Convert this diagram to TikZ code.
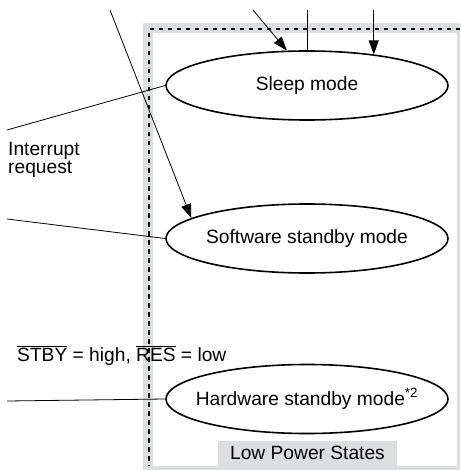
\documentclass[tikz,border=0pt]{standalone}
\usepackage{fontspec}
\setmainfont{Liberation Sans}
\usetikzlibrary{shapes.geometric,arrows.meta}
\definecolor{bandgray}{RGB}{221,222,224}
\newcommand{\modelabel}[1]{\makebox[0pt]{#1}}

\begin{document}
\begin{tikzpicture}[x=1pt,y=-1pt,
    font=\fontsize{19.2}{18}\selectfont,
    mode/.style={draw,ellipse,line width=1.6pt,minimum width=282pt,minimum height=69pt,inner sep=0pt},
    wire/.style={line width=0.8pt},
    into/.style={wire,-{Triangle[length=14pt,width=10pt]}}]
	\useasboundingbox (0,0) rectangle (460,470);
	% low power region
	\fill[bandgray] (143,23) rectangle (460,470);
	\fill[white] (153,33) rectangle (457,466);
	\draw[line width=1.4pt,dash pattern=on 4.5pt off 4.5pt] (460,29) -- (149,29) -- (149,466);
	\node[fill=bandgray,minimum width=179pt,minimum height=25pt,anchor=south] (lps) at (307.5,466) {Low Power States};
	
	\node[mode] (sleep) at (307,85.5) {\modelabel{Sleep mode}};
	\node[mode] (sw) at (307,238.5) {\modelabel{Software standby mode}};
	\node[mode] (hw) at (307,399) {\modelabel{Hardware standby mode\textsuperscript{*2}}};
	
	\coordinate (top) at (0,10);
	\coordinate (a) at (110,10);
	\coordinate (b) at (253,10);
	\draw[into] (a) -- (sw.170);
	\draw[into] (b) -- (sleep.120);
	\draw[wire] (sleep.north) -- (sleep.north |- top);
	\draw[into] (sleep.25 |- top) -- (sleep.25);
	
	\coordinate (irq) at (7,130);
	\draw[wire] (irq) -- (sleep.west);
	\node[anchor=north west,inner sep=0pt,align=left] (irqtext) at (8,142) {Interrupt\\request};
	
	\coordinate (swin) at (7,219);
	\draw[wire] (swin) -- (sw.west);
	
	\node[anchor=base west,inner sep=0pt] (cond) at (17,361) {$\overline{\mbox{STBY}}$ = high, $\overline{\mbox{RES}}$ = low};
	\coordinate (hwin) at (7,401);
	\draw[wire] (hwin) -- (hw.west);
\end{tikzpicture}
\end{document}
